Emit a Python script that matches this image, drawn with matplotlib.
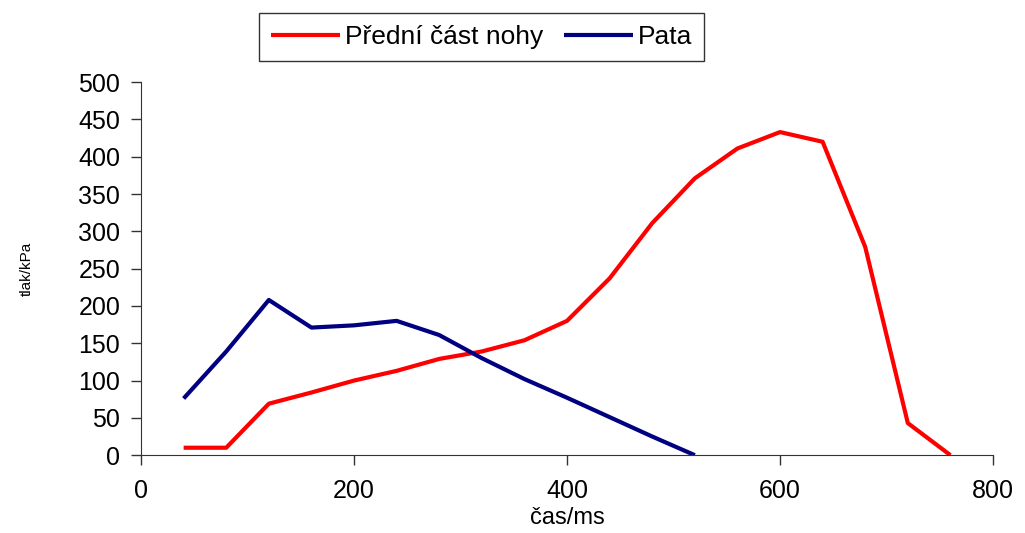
import matplotlib.pyplot as plt

plt.rcParams['font.family'] = ['Liberation Sans', 'DejaVu Sans']

# time samples (ms) and pressure (kPa)
cas = [40, 80, 120, 160, 200, 240, 280, 320, 360, 400, 440, 480, 520,
       560, 600, 640, 680, 720, 760]
predni = [10, 10, 69, 84, 100, 113, 129, 139, 154, 180, 237, 311, 371,
          411, 433, 420, 279, 43, 0]
cas_pata = [40, 80, 120, 160, 200, 240, 280, 320, 360, 400, 440, 480, 520]
pata = [76, 139, 208, 171, 174, 180, 161, 130, 102, 77, 51, 25, 0]

fig = plt.figure(figsize=(10.25, 5.33), dpi=100)
ax = fig.add_axes([0.1376, 0.146, 0.8312, 0.7])

ax.plot(cas, predni, color='#ff0000', lw=3, label='Přední část nohy',
        solid_capstyle='butt')
ax.plot(cas_pata, pata, color='#000080', lw=3, label='Pata',
        solid_capstyle='butt')

ax.set_xlim(0, 800)
ax.set_ylim(0, 500)
ax.set_xticks(range(0, 801, 200))
ax.set_yticks(range(0, 501, 50))
for s in ['top', 'right']:
    ax.spines[s].set_visible(False)
for s in ['left', 'bottom']:
    ax.spines[s].set_color('#333333')
ax.tick_params(direction='out', length=7, width=1, labelsize=18,
               color='#333333')
ax.tick_params(axis='y', pad=8)
ax.tick_params(axis='x', pad=10)

ax.set_xlabel('čas/ms', fontsize=17, labelpad=3)
ax.set_ylabel('tlak/kPa', fontsize=11, labelpad=32)

leg = fig.legend(loc='center', bbox_to_anchor=(0.47, 0.93), ncol=2,
                 fontsize=19, fancybox=False, edgecolor='#333333',
                 handlelength=2.6, handletextpad=0.2, columnspacing=0.8,
                 borderpad=0.45, framealpha=1)
leg.get_frame().set_linewidth(1)

fig.savefig('out.png', dpi=100)
